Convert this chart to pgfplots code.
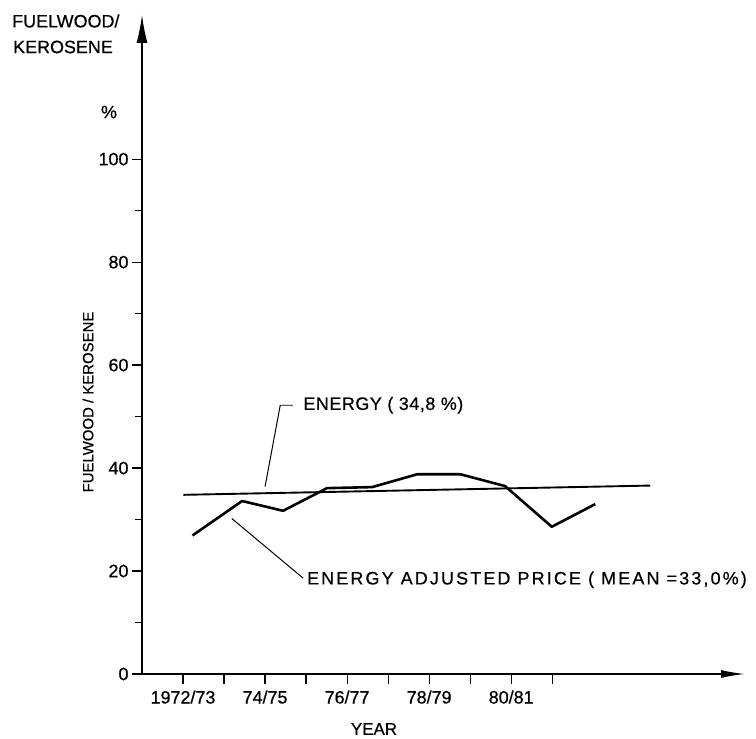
\documentclass[border=0pt]{standalone}
\usepackage{fontspec}
\setmainfont{Liberation Sans}[FakeBold=0.6]
\newfontfamily\spaced{Liberation Sans}[LetterSpace=12,FakeBold=0.6]
\newfontfamily\tight{Liberation Sans}[LetterSpace=3,FakeBold=0.6]
\usepackage{pgfplots}
\pgfplotsset{compat=1.18}
\usetikzlibrary{arrows.meta}

\begin{document}
\begin{tikzpicture}
	% page frame, origin of the axis at (142,674) px of the scan
	\path[use as bounding box] (-142bp,-65bp) rectangle (614bp,674bp);
	\begin{axis}[
			at={(0,0)}, anchor=south west,
			scale only axis,
			width=603bp, height=659bp,
			xmin=0, xmax=14.7,
			ymin=0, ymax=128,
			clip=false,
			axis lines=left,
			axis line style={line width=1.4pt},
			x axis line style={-{Latex[length=24bp,width=8bp]}},
			y axis line style={-{Latex[length=28bp,width=11bp]}},
			tick align=outside,
			tick style={black, line width=1.2pt},
			major tick length=10bp,
			minor tick length=7bp,
			xtick={1,...,10},
			xticklabels={1972/73,,74/75,,76/77,,78/79,,80/81,},
			ytick={0,20,...,100},
			minor ytick={10,30,...,90},
			/pgf/number format/assume math mode=true,
			tick label style={font=\fontsize{18}{20}\selectfont},
			xticklabel style={yshift=-3bp},
		]

		% energy adjusted price
		\addplot[black, line width=2.6pt, line join=round] table {
		1.23	26.9
		2.44	33.6
		3.44	31.7
		4.51	36.1
		5.61	36.3
		6.71	38.8
		7.76	38.8
		8.85	36.5
		9.99	28.6
		11.05	33.0
		};

		% energy
		\addplot[black, line width=1.9pt] table {
		1.01	34.8
		12.39	36.6
		};

		% leader lines and notes
		\draw[line width=1pt] (axis cs:3.0,36.4) -- (axis cs:3.37,52.2) -- (axis cs:3.68,52.2);
		\draw[line width=1pt] (axis cs:2.19,30.2) -- (axis cs:3.93,18.6);
		\node[anchor=west, inner sep=0pt, font=\tight\fontsize{18}{20}\selectfont]
			at (axis cs:3.93,52.2) {ENERGY ( 34,8 \%)};
		\node[anchor=west, inner sep=0pt, font=\spaced\fontsize{18}{20}\selectfont]
			at (axis cs:4.02,18.3) {ENERGY ADJUSTED PRICE ( MEAN =33,0\%)};
	\end{axis}

	% titles round the axes
	\node[anchor=west, inner sep=0pt, font=\fontsize{18}{20}\selectfont] at (-130bp,653bp) {FUELWOOD/};
	\node[anchor=west, inner sep=0pt, font=\fontsize{18}{20}\selectfont] at (-129bp,627bp) {KEROSENE};
	\node[inner sep=0pt, font=\fontsize{18}{20}\selectfont] at (-33bp,562bp) {\%};
	\node[rotate=90, inner sep=0pt, font=\fontsize{15}{18}\selectfont] at (-54bp,272bp) {FUELWOOD / KEROSENE};
	\node[inner sep=0pt, font=\fontsize{17}{19}\selectfont] at (232bp,-55bp) {YEAR};
\end{tikzpicture}
\end{document}
